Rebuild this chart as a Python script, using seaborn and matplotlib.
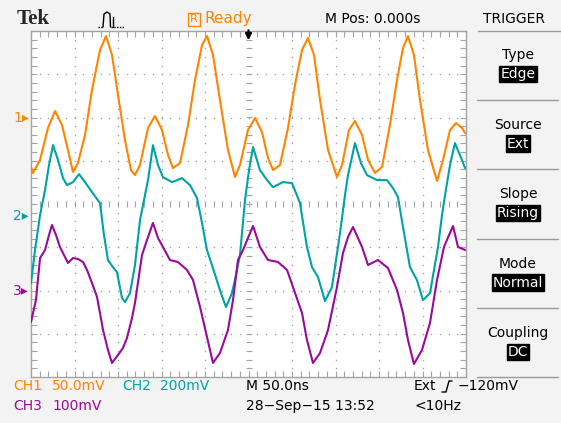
import numpy as np
import pandas as pd
import matplotlib
matplotlib.use("Agg")
import matplotlib.pyplot as plt
import seaborn as sns
from matplotlib.lines import Line2D
from matplotlib.patches import Rectangle

# ---------------- data ----------------
# time in ns, amplitude in mV
ch1_t = [-250.0, -247.7, -239.6, -230.5, -222.4, -214.4, -207.5, -201.7, -196.0, -187.9,
         -179.9, -170.7, -163.8, -156.9, -150.0, -142.0, -135.1, -130.5, -124.7, -115.5,
         -107.5, -99.4, -92.5, -86.8, -78.7, -69.5, -61.5, -53.4, -47.7, -40.8,
         -32.8, -23.6, -15.5, -9.8, -0.6, 7.5, 15.5, 22.4, 28.2, 36.2,
         45.4, 53.4, 61.5, 68.4, 75.3, 82.2, 91.4, 101.7, 107.5, 115.5,
         122.4, 130.5, 137.4, 145.4, 153.5, 162.6, 170.7, 177.6, 183.3, 190.2,
         197.1, 206.3, 216.7, 223.6, 231.6, 238.5, 245.4, 248.9]
ch1_mv = [-57.2, -64.2, -49.1, -12.1, 7.5, -8.7, -37.6, -63.0, -52.6, -20.2,
          31.8, 78.0, 94.2, 72.3, 26.0, -26.0, -60.7, -66.5, -54.9, -12.1,
          1.7, -14.5, -43.4, -58.4, -52.6, -8.7, 43.4, 83.8, 94.2, 72.3,
          20.2, -37.6, -68.8, -54.9, -14.5, -0.6, -16.8, -46.8, -60.7, -54.9,
          -12.1, 37.6, 78.0, 91.9, 72.3, 20.2, -37.6, -68.8, -54.9, -14.5,
          -4.0, -20.2, -49.1, -64.2, -57.2, -8.7, 43.4, 80.3, 94.2, 72.3,
          20.2, -37.6, -73.4, -49.1, -14.5, -6.4, -12.1, -17.9]

ch2_t = [-250.0, -245.4, -239.6, -233.9, -229.3, -224.7, -218.9, -213.2, -208.6, -201.7,
         -194.8, -187.9, -179.9, -170.7, -166.1, -161.5, -155.8, -151.2, -145.4, -142.0,
         -136.2, -130.5, -124.7, -119.0, -115.5, -109.8, -104.0, -98.3, -87.9, -76.4,
         -67.2, -59.2, -53.4, -47.7, -42.0, -32.8, -25.9, -19.0, -14.4, -9.8,
         -4.0, 0.6, 5.2, 13.2, 21.3, 28.2, 39.7, 50.0, 59.2, 67.2,
         73.0, 79.9, 87.9, 95.9, 100.6, 105.2, 110.9, 114.4, 122.4, 129.3,
         136.2, 147.7, 159.2, 166.1, 171.8, 177.6, 185.6, 193.6, 200.6, 208.6,
         213.2, 217.8, 222.4, 225.9, 231.6, 237.3, 245.4, 248.9]
ch2_mv = [-309.8, -157.2, 4.6, 120.2, 235.8, 328.3, 258.9, 175.7, 143.3, 157.2,
          194.2, 157.2, 111.0, 60.1, -87.9, -203.5, -235.8, -258.9, -379.2, -397.7,
          -356.0, -226.6, -18.5, 97.1, 166.5, 328.3, 235.8, 180.3, 157.2, 175.7,
          143.3, 83.2, -32.4, -157.2, -226.6, -342.2, -420.8, -356.0, -272.8, -180.3,
          74.0, 212.7, 319.1, 212.7, 166.5, 134.1, 157.2, 152.6, 60.1, -143.3,
          -235.8, -282.1, -393.0, -328.3, -203.5, -78.6, 97.1, 189.6, 337.6, 245.1,
          189.6, 166.5, 166.5, 129.5, 87.9, -50.9, -235.8, -295.9, -388.4, -356.0,
          -249.7, -143.3, 4.6, 97.1, 235.8, 337.6, 258.9, 222.0]

ch3_t = [-250.0, -244.3, -239.6, -233.9, -229.3, -225.9, -221.3, -216.7, -207.5, -201.7,
         -196.0, -190.2, -185.6, -179.9, -174.1, -167.2, -161.5, -156.9, -150.0, -144.3,
         -139.7, -133.9, -130.5, -122.4, -116.7, -109.8, -104.0, -98.3, -90.3, -81.1,
         -70.7, -63.8, -55.7, -47.7, -40.8, -32.8, -23.6, -17.8, -12.1, -6.3,
         -0.6, 5.2, 13.2, 22.4, 33.9, 44.3, 51.1, 61.5, 67.2, 74.1,
         82.2, 91.4, 101.7, 108.6, 114.4, 120.1, 130.5, 137.4, 148.8, 160.3,
         170.7, 177.6, 183.3, 190.2, 199.4, 208.6, 216.7, 224.7, 230.5, 235.1,
         240.8, 248.9]
ch3_mv = [-72.8, -22.0, 75.1, 93.6, 128.3, 151.4, 128.3, 100.6, 63.6, 75.1,
          72.8, 65.9, 47.4, 17.3, -15.0, -91.3, -137.6, -167.6, -149.1, -132.9,
          -109.8, -63.6, -28.9, 82.1, 116.8, 156.1, 121.4, 100.6, 70.5, 65.9,
          47.4, 24.3, -38.1, -107.5, -167.6, -144.5, -91.3, -22.0, 70.5, 93.6,
          121.4, 149.1, 100.6, 70.5, 65.9, 47.4, 8.1, -52.0, -114.4, -167.6,
          -144.5, -91.3, 8.1, 86.7, 123.7, 146.8, 100.6, 59.0, 70.5, 52.0,
          1.2, -52.0, -114.4, -169.9, -137.6, -75.1, 24.3, 100.6, 128.3, 149.1,
          100.6, 93.6]

channels = ["CH1", "CH2", "CH3"]
volts_per_div = [50.0, 200.0, 100.0]      # mV/div
position_div = [2.0, -0.28, -2.0]         # ground marker position (div)
colors = ["#ff8400", "#00a3a3", "#9a0a9a"]
scale_labels = ["50.0mV", "200mV", "100mV"]

# ---------------- figure ----------------
W, H = 561, 423
fig = plt.figure(figsize=(W / 100, H / 100), dpi=100)
sns.set_style("white")
plt.rcParams["font.family"] = ["DejaVu Sans"]
bg = "#f3f3f3"
fig.patch.set_facecolor(bg)

def fx(x):
    return x / W

def fy(y):
    return 1 - y / H

L, R_, T, B = 31, 466, 31, 377
ax = fig.add_axes([fx(L), fy(B), (R_ - L) / W, (B - T) / H])
ax.set_facecolor("white")
ax.set_xlim(-250, 250)
ax.set_ylim(-4, 4)

grid_c = "#a3a3a3"
# graticule dots
for k in [-3, -2, -1, 1, 2, 3]:
    xs = np.arange(-250, 251, 10)
    ax.scatter(xs, np.full_like(xs, k, dtype=float), s=1.2, color=grid_c, lw=0, zorder=1)
for k in [-4, -3, -2, -1, 1, 2, 3, 4]:
    ys = np.arange(-4, 4.01, 0.2)
    ax.scatter(np.full_like(ys, k * 50.0), ys, s=1.2, color=grid_c, lw=0, zorder=1)
# center cross with tick marks
xs = np.arange(-250, 251, 10)
ax.scatter(xs, np.zeros_like(xs, dtype=float), marker="|", s=14, color=grid_c, lw=0.8, zorder=1)
ys = np.arange(-4, 4.01, 0.2)
ax.scatter(np.zeros_like(ys), ys, marker="_", s=14, color=grid_c, lw=0.8, zorder=1)

for sp in ax.spines.values():
    sp.set_color(grid_c)
    sp.set_linewidth(1.0)
ax.set_xticks(np.arange(-250, 251, 50))
ax.set_xticks(np.arange(-250, 251, 10), minor=True)
ax.set_yticks(np.arange(-4, 5, 1))
ax.set_yticks(np.arange(-4, 4.01, 0.2), minor=True)
ax.tick_params(which="both", direction="in", top=True, right=True, bottom=True, left=True,
               length=4, width=0.8, color=grid_c, labelbottom=False, labelleft=False)
ax.set_xlabel("")
ax.set_ylabel("")

# traces
series = [(ch1_t, ch1_mv), (ch2_t, ch2_mv), (ch3_t, ch3_mv)]
for (t, mv), vpd, pos, col in zip(series, volts_per_div, position_div, colors):
    df = pd.DataFrame({"t": t, "div": np.array(mv) / vpd + pos})
    sns.lineplot(data=df, x="t", y="div", ax=ax, color=col, lw=1.5,
                 estimator=None, sort=False, zorder=3)
ax.set_xlabel("")
ax.set_ylabel("")

# trigger position arrow
ax.annotate("", xy=(0, 3.72), xytext=(0, 4.08), annotation_clip=False,
            arrowprops=dict(arrowstyle="-|>", color="black", lw=1.6, mutation_scale=9))

# channel markers on the left
for i, (pos, col) in enumerate(zip(position_div, colors)):
    ypx = T + (4 - pos) * (B - T) / 8
    fig.text(fx(29), fy(ypx), f"{i + 1}\u25b8", color=col, fontsize=10,
             ha="right", va="center")

# ---------------- top status bar ----------------
ty = 19
fig.text(fx(17), fy(ty), "Tek", family="Liberation Serif", weight="bold",
         fontsize=15, ha="left", va="center")
# trigger pulse icon
fig.add_artist(Line2D([fx(98), fx(103)], [fy(27), fy(27)], transform=fig.transFigure,
                      color="black", lw=1, ls=(0, (1, 1))))
fig.add_artist(Line2D([fx(103), fx(104), fx(107), fx(110), fx(110.5)],
                      [fy(27), fy(14), fy(12), fy(14), fy(27)],
                      transform=fig.transFigure, color="black", lw=1))
fig.add_artist(Line2D([fx(113), fx(113)], [fy(17), fy(27)], transform=fig.transFigure,
                      color="black", lw=1))
fig.add_artist(Line2D([fx(110.5), fx(124)], [fy(27), fy(27)], transform=fig.transFigure,
                      color="black", lw=1, ls=(0, (1, 1))))
# Ready
fig.add_artist(Rectangle((fx(188), fy(26)), 12 / W, 13 / H, transform=fig.transFigure,
                         fill=False, edgecolor="#ff8400", lw=1))
fig.text(fx(194), fy(19.5), "R", color="#ff8400", fontsize=8, ha="center", va="center")
fig.text(fx(205), fy(ty), "Ready", color="#ff8400", fontsize=11, ha="left", va="center")
fig.text(fx(325), fy(ty), "M Pos: 0.000s", color="black", fontsize=10, ha="left", va="center")
fig.text(fx(483), fy(ty), "TRIGGER", color="black", fontsize=10, ha="left", va="center")

# ---------------- right menu panel ----------------
sep_c = "#9a9a9a"
for ysep in [31, 100, 169, 239, 308, 377]:
    x0 = 478 if ysep == 31 else 477
    x1 = 561 if ysep == 31 else 558
    fig.add_artist(Line2D([fx(x0), fx(x1)], [fy(ysep), fy(ysep)],
                          transform=fig.transFigure, color=sep_c, lw=1))
menu_titles = ["Type", "Source", "Slope", "Mode", "Coupling"]
menu_values = ["Edge", "Ext", "Rising", "Normal", "DC"]
for i, (ttl, val) in enumerate(zip(menu_titles, menu_values)):
    y0 = 55 + i * 69.5
    fig.text(fx(518), fy(y0), ttl, color="black", fontsize=10, ha="center", va="center")
    fig.text(fx(518), fy(y0 + 19), val, color="white", fontsize=10, ha="center", va="center",
             bbox=dict(boxstyle="square,pad=0.08", fc="black", ec="black"))

# ---------------- bottom readout ----------------
r1, r2 = 386, 406
fig.text(fx(13), fy(r1), channels[0], color=colors[0], fontsize=10, va="center")
fig.text(fx(52), fy(r1), scale_labels[0], color=colors[0], fontsize=10, va="center")
fig.text(fx(122), fy(r1), channels[1], color=colors[1], fontsize=10, va="center")
fig.text(fx(160), fy(r1), scale_labels[1], color=colors[1], fontsize=10, va="center")
fig.text(fx(13), fy(r2), channels[2], color=colors[2], fontsize=10, va="center")
fig.text(fx(52), fy(r2), scale_labels[2], color=colors[2], fontsize=10, va="center")
fig.text(fx(246), fy(r1), "M 50.0ns", color="black", fontsize=10, va="center")
fig.text(fx(246), fy(r2), "28\u2212Sep\u221215 13:52", color="black", fontsize=10, va="center")
fig.text(fx(414), fy(r1), "Ext", color="black", fontsize=10, va="center")
fig.add_artist(Line2D([fx(442), fx(446), fx(449), fx(452)],
                      [fy(392), fy(392), fy(381), fy(381)],
                      transform=fig.transFigure, color="black", lw=1))
fig.text(fx(458), fy(r1), "\u2212120mV", color="black", fontsize=10, va="center")
fig.text(fx(414), fy(r2), "<10Hz", color="black", fontsize=10, va="center")

fig.savefig("out.png", dpi=100, facecolor=bg)
